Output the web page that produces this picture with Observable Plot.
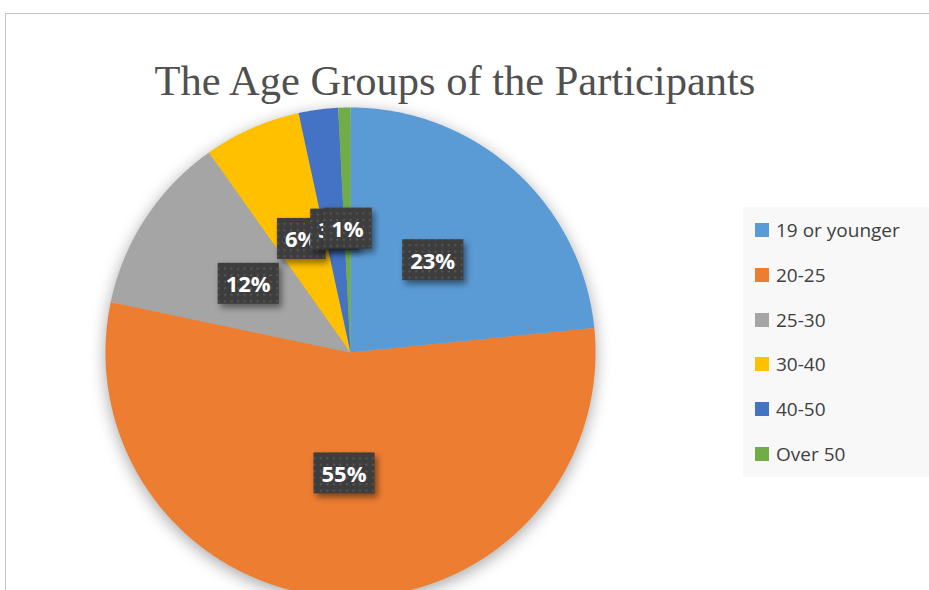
<!DOCTYPE html>
<html><head><meta charset="utf-8">
<script src="https://cdn.jsdelivr.net/npm/d3@7"></script>
<script src="https://cdn.jsdelivr.net/npm/@observablehq/plot@0.6"></script>
<style>
body{margin:0;background:#fff;}
#wrap{position:relative;width:929px;height:590px;overflow:hidden;background:#fff;}
#frame{position:absolute;left:5px;top:13px;right:-5px;bottom:-5px;border-top:1.5px solid #c4c4c4;border-left:1.5px solid #c4c4c4;}
#chart{position:absolute;left:0;top:0;}
#title{position:absolute;left:0;width:910px;top:56px;text-align:center;font-family:"Liberation Serif","Times New Roman",serif;font-size:42.5px;line-height:50px;color:#505050;white-space:nowrap;}
#legend{position:absolute;left:743px;top:207px;width:200px;height:270px;background:#f8f8f8;}
.item{position:absolute;left:12px;height:24px;display:flex;align-items:center;font-family:"Open Sans",sans-serif;font-size:19px;color:#404040;}
.sw{width:14px;height:14px;margin-right:7px;}
</style>
</head><body>
<div id="wrap">
  <div id="frame"></div>
  <div id="chart"></div>
  <div id="title">The Age Groups of the Participants</div>
  <div id="legend"></div>
</div>
<script>
// ---- data ----
const categories = ["19 or younger", "20-25", "25-30", "30-40", "40-50", "Over 50"];
const shares = [23.4, 54.9, 11.9, 6.4, 2.6, 0.8];
const labels = ["23%", "55%", "12%", "6%", "3%", "1%"];
const colors = ["#5B9BD5", "#ED7D31", "#A5A5A5", "#FFC000", "#4472C4", "#70AD47"];

const rows = categories.map((c, i) => ({cat: c, value: shares[i], label: labels[i]}));
const arcs = d3.pie().sort(null).value(d => d.value).startAngle(0).endAngle(2 * Math.PI)(rows);

// polygon points per slice (unit circle, angle clockwise from top)
const pts = [];
for (const a of arcs) {
  pts.push({cat: a.data.cat, x: 0, y: 0});
  const n = Math.max(2, Math.ceil((a.endAngle - a.startAngle) / 0.005));
  for (let k = 0; k <= n; k++) {
    const t = a.startAngle + (a.endAngle - a.startAngle) * k / n;
    pts.push({cat: a.data.cat, x: Math.sin(t), y: Math.cos(t)});
  }
  pts.push({cat: a.data.cat, x: 0, y: 0});
}
const labelPts = arcs.map(a => {
  const m = (a.startAngle + a.endAngle) / 2;
  return {cat: a.data.cat, label: a.data.label, x: 0.5 * Math.sin(m), y: 0.5 * Math.cos(m)};
});

const plot = Plot.plot({
  width: 929,
  height: 590,
  marginLeft: 105,
  marginRight: 334,
  marginTop: 107,
  marginBottom: 0,
  x: {domain: [-1, 1], axis: null},
  y: {domain: [-238 / 245, 1], axis: null},
  color: {domain: categories, range: colors},
  style: {background: "transparent", overflow: "visible"},
  marks: [
    Plot.line(pts, {x: "x", y: "y", z: "cat", fill: "cat", stroke: "none", curve: "linear", className: "pie"}),
    Plot.text(labelPts, {x: "x", y: "y", text: "label", fill: "white", fontSize: 22, fontWeight: "bold", fontFamily: "Open Sans, sans-serif", className: "lbl"})
  ]
});
document.getElementById("chart").appendChild(plot);

// pattern + shadows
const svg = d3.select(plot);
const defs = svg.insert("defs", ":first-child");
const pat = defs.append("pattern").attr("id", "dots").attr("patternUnits", "userSpaceOnUse").attr("width", 6.5).attr("height", 6.5);
pat.append("rect").attr("width", 6.5).attr("height", 6.5).attr("fill", "#3d3d3d");
pat.append("rect").attr("x", 2).attr("y", 2).attr("width", 2).attr("height", 2).attr("fill", "#575757");
svg.select("g.pie").style("filter", "drop-shadow(0px 4px 8px rgba(0,0,0,0.35))");

// label boxes sized from rendered text
svg.selectAll("g.lbl text").each(function() {
  const bb = this.getBBox();
  const g = this.parentNode;
  const cy = bb.y + bb.height / 2;
  const grp = d3.select(g).insert("g", () => this);
  const tr = this.getAttribute("transform");
  if (tr) grp.attr("transform", tr);
  this.removeAttribute("transform");
  grp.append("rect")
    .attr("x", bb.x - 8).attr("y", cy - 20.5)
    .attr("width", bb.width + 16).attr("height", 41)
    .attr("fill", "url(#dots)")
    .style("filter", "drop-shadow(3px 4px 3px rgba(0,0,0,0.45))");
  grp.node().appendChild(this);
});

// legend
const leg = d3.select("#legend");
categories.forEach((c, i) => {
  const it = leg.append("div").attr("class", "item").style("top", (11 + i * 44.8) + "px");
  it.append("div").attr("class", "sw").style("background", colors[i]);
  it.append("span").text(c);
});
</script>
</body></html>
